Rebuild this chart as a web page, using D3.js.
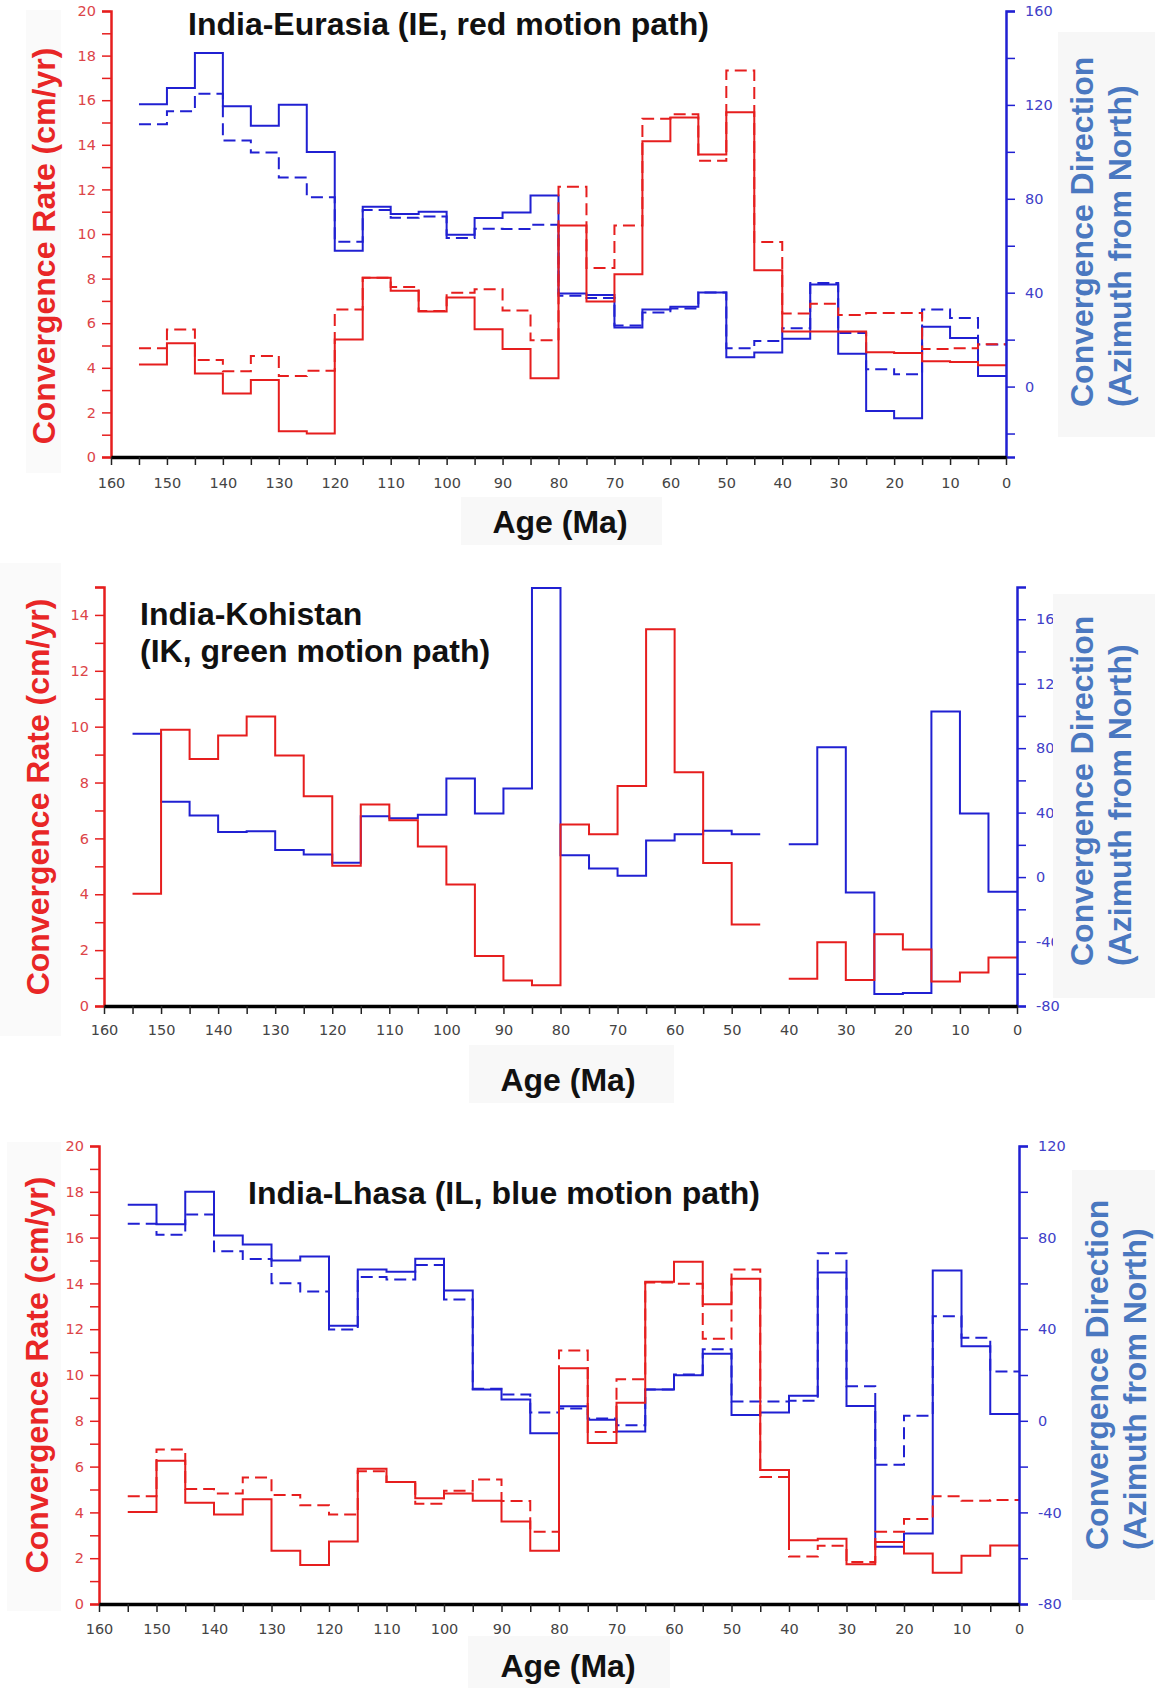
<!DOCTYPE html>
<html>
<head>
<meta charset="utf-8">
<script src="https://cdn.jsdelivr.net/npm/d3@7"></script>
<style>
  body { margin: 0; background: #fff; }
  text { font-family: "Liberation Sans", Arial, sans-serif; }
  .tick-label { font-family: "DejaVu Sans", sans-serif; font-size: 14.5px; }
  .big { font-weight: bold; font-size: 32px; }
</style>
</head>
<body>
<svg id="chart" width="1155" height="1688"></svg>
<script>
// bin start ages (Ma), each bin runs from age to age-5
var ages = [155,150,145,140,135,130,125,120,115,110,105,100,95,90,85,80,75,70,65,60,55,50,45,40,35,30,25,20,15,10,5];
var ageTicks = [160,150,140,130,120,110,100,90,80,70,60,50,40,30,20,10,0];

// India-Eurasia
var ieRateSolid  = [4.15,5.1,3.75,2.85,3.45,1.15,1.05,5.27,8.04,7.46,6.52,7.15,5.73,4.84,3.53,10.38,6.97,8.19,14.16,15.22,13.57,15.46,8.38,5.63,5.63,5.63,4.7,4.66,4.29,4.26,4.11];
var ieRateDashed = [4.88,5.72,4.35,3.84,4.53,3.63,3.87,6.61,8.04,7.62,6.55,7.36,7.52,6.57,5.23,12.12,8.47,10.38,15.17,15.37,13.28,17.33,9.64,6.43,6.87,6.37,6.46,6.46,4.84,4.88,5.06];
var ieAzSolid    = [120.3,127.2,142.1,119.4,111.1,120.1,99.9,57.9,76.6,73.5,74.5,64.7,71.8,74.2,81.4,39.6,39.0,25.2,32.8,34.0,40.1,12.5,14.5,20.4,43.5,14.0,-10.4,-13.5,25.5,20.7,4.5];
var ieAzDashed   = [111.8,117.3,124.8,104.8,99.7,89.1,80.7,61.7,75.2,71.9,72.5,63.3,67.2,67.1,68.9,38.7,37.7,26.0,31.6,33.3,40.1,16.3,19.4,24.8,44.1,22.8,7.4,5.2,32.8,29.2,17.9];

// India-Kohistan (no 45-40 Ma bin)
var ikRate = [4.02,9.89,8.84,9.68,10.36,8.97,7.51,5.02,7.21,6.65,5.71,4.35,1.79,0.91,0.74,6.50,6.15,7.88,13.49,8.37,5.12,2.92,null,0.98,2.28,0.93,2.57,2.02,0.88,1.20,1.74];
var ikAz   = [89.0,46.7,38.2,28.0,28.5,16.8,14.0,8.9,37.8,36.5,38.6,61.1,39.5,55.0,179.4,13.6,5.3,0.8,22.7,26.5,28.7,26.5,null,20.4,80.5,-9.6,-72.6,-72.0,102.8,39.5,-9.1];

// India-Lhasa
var ilRateSolid  = [4.02,6.26,4.42,3.91,4.57,2.33,1.70,2.73,5.91,5.33,4.62,4.83,4.51,3.60,2.33,10.30,7.03,8.79,14.07,14.95,13.09,14.20,5.85,2.78,2.85,1.74,2.71,2.21,1.36,2.11,2.56];
var ilRateDashed = [4.70,6.75,5.02,4.83,5.52,4.76,4.31,3.91,5.80,5.33,4.38,4.94,5.44,4.50,3.15,11.07,7.51,9.81,14.04,13.98,11.58,14.61,5.55,2.07,2.54,1.83,3.15,3.71,4.70,4.51,4.54];
var ilAzSolid    = [94.3,85.8,100.0,80.9,77.0,70.0,71.8,41.5,66.1,65.1,70.8,56.9,13.7,9.3,-5.4,6.4,0.5,-4.7,13.7,19.9,29.3,2.5,3.6,10.9,64.8,6.5,-55.0,-49.2,65.6,32.6,3.0];
var ilAzDashed   = [86.1,81.2,90.1,74.0,70.7,60.1,56.5,39.9,62.8,61.7,68.0,53.0,14.0,11.5,3.6,5.4,1.0,-1.9,13.7,20.2,31.2,8.4,8.4,8.8,73.2,15.1,-19.2,2.2,45.7,36.3,21.5];

var svg = d3.select("#chart");
var red = "#e61e1e", blue = "#2020d2";

var panels = [
  { left: 111, right: 1006, top: 11, bottom: 457, rateMax: 20, azMin: -30, azMax: 160, azTickMax: 160,
    rate: [ieRateSolid, ieRateDashed], az: [ieAzSolid, ieAzDashed],
    title: ["India-Eurasia (IE, red motion path)"], titleX: 188, titleY: 35,
    leftBox: [26, 10, 35, 463], leftLab: [55, 246],
    rightBox: [1058, 32, 97, 405], rightLab: [1093, 1131, 407],
    ageBox: [461, 497, 201, 48], ageLab: [560, 533], tickY: 488 },
  { left: 104, right: 1017, top: 587, bottom: 1006, rateMax: 15, azMin: -80, azMax: 180, azTickMax: 160,
    rate: [ikRate], az: [ikAz],
    title: ["India-Kohistan", "(IK, green motion path)"], titleX: 140, titleY: 625,
    leftBox: [0, 563, 61, 473], leftLab: [49, 797],
    rightBox: [1053, 594, 102, 404], rightLab: [1093, 1131, 966],
    ageBox: [469, 1045, 205, 58], ageLab: [568, 1091], tickY: 1035 },
  { left: 99, right: 1019, top: 1146, bottom: 1604, rateMax: 20, azMin: -80, azMax: 120, azTickMax: 120,
    rate: [ilRateSolid, ilRateDashed], az: [ilAzSolid, ilAzDashed],
    title: ["India-Lhasa (IL, blue motion path)"], titleX: 248, titleY: 1204,
    leftBox: [7, 1142, 54, 469], leftLab: [48, 1375],
    rightBox: [1072, 1170, 83, 430], rightLab: [1108, 1146, 1550],
    ageBox: [468, 1636, 202, 52], ageLab: [568, 1677], tickY: 1634 }
];

// turn bin values into step-line corner points (null breaks the line)
function stepPoints(vals) {
  var pts = [];
  vals.forEach(function(v, i) {
    if (v == null) { pts.push(null); return; }
    pts.push([ages[i], v]);
    pts.push([ages[i] - 5, v]);
  });
  return pts;
}

panels.forEach(drawPanel);

function drawPanel(p) {
  var g = svg.append("g");

  var x = d3.scaleLinear().domain([160, 0]).range([p.left, p.right]);
  var yRate = d3.scaleLinear().domain([0, p.rateMax]).range([p.bottom, p.top]);
  var yAz = d3.scaleLinear().domain([p.azMin, p.azMax]).range([p.bottom, p.top]);

  // faint label background
  g.append("rect").attr("x", p.leftBox[0]).attr("y", p.leftBox[1])
    .attr("width", p.leftBox[2]).attr("height", p.leftBox[3]).attr("fill", "#fafafa");

  // series
  var lineAz = d3.line().defined(function(d) { return d != null; })
    .x(function(d) { return x(d[0]); }).y(function(d) { return yAz(d[1]); });
  var lineRate = d3.line().defined(function(d) { return d != null; })
    .x(function(d) { return x(d[0]); }).y(function(d) { return yRate(d[1]); });

  p.az.forEach(function(s, i) {
    g.append("path").attr("d", lineAz(stepPoints(s)))
      .attr("fill", "none").attr("stroke", blue).attr("stroke-width", 2)
      .attr("stroke-dasharray", i == 1 ? "12,6" : null);
  });
  p.rate.forEach(function(s, i) {
    g.append("path").attr("d", lineRate(stepPoints(s)))
      .attr("fill", "none").attr("stroke", red).attr("stroke-width", 2)
      .attr("stroke-dasharray", i == 1 ? "12,6" : null);
  });

  // left axis (rate)
  var leftAx = d3.axisLeft(yRate).tickValues(d3.range(0, p.rateMax + 0.1, 1))
    .tickSize(9).tickFormat(function(d) { return d % 2 == 0 ? d : ""; }).tickPadding(6);
  var la = g.append("g").attr("transform", "translate(" + p.left + ",0)").call(leftAx);
  la.select(".domain").attr("stroke", red).attr("stroke-width", 2.5);
  la.selectAll(".tick line").attr("stroke", red).attr("stroke-width", 1.5);
  la.selectAll(".tick text").attr("class", "tick-label").attr("fill", "#dc4448");

  // right axis (azimuth)
  var azTicks = d3.range(-80, p.azTickMax + 1, 20).filter(function(d) { return d >= p.azMin; });
  var rightAx = d3.axisRight(yAz).tickValues(azTicks).tickSize(9).tickPadding(10)
    .tickFormat(function(d) { return d % 40 == 0 ? d : ""; });
  var ra = g.append("g").attr("transform", "translate(" + p.right + ",0)").call(rightAx);
  ra.select(".domain").attr("stroke", blue).attr("stroke-width", 2.5);
  ra.selectAll(".tick line").attr("stroke", blue).attr("stroke-width", 1.5);
  ra.selectAll(".tick text").attr("class", "tick-label").attr("fill", "#4040c8");

  // bottom axis (age)
  var bottomAx = d3.axisBottom(x).tickValues(d3.range(0, 161, 5)).tickSize(8)
    .tickFormat(function(d) { return d % 10 == 0 ? d : ""; }).tickSizeOuter(0);
  var ba = g.append("g").attr("transform", "translate(0," + p.bottom + ")").call(bottomAx);
  ba.select(".domain").attr("stroke", "#000").attr("stroke-width", 3.5);
  ba.selectAll(".tick line").attr("stroke", "#222").attr("stroke-width", 1.5);
  ba.selectAll(".tick text").attr("class", "tick-label").attr("fill", "#444")
    .attr("y", p.tickY - p.bottom - 10).attr("dy", "0.71em");

  // boxes behind / over labels
  g.append("rect").attr("x", p.rightBox[0]).attr("y", p.rightBox[1])
    .attr("width", p.rightBox[2]).attr("height", p.rightBox[3]).attr("fill", "#f7f7f7");
  g.append("rect").attr("x", p.ageBox[0]).attr("y", p.ageBox[1])
    .attr("width", p.ageBox[2]).attr("height", p.ageBox[3]).attr("fill", "#f8f8f8");

  // texts
  g.append("text").attr("class", "big").attr("x", p.ageLab[0]).attr("y", p.ageLab[1])
    .attr("text-anchor", "middle").attr("fill", "#111").text("Age (Ma)");

  var t = g.append("text").attr("class", "big").attr("x", p.titleX).attr("y", p.titleY).attr("fill", "#111");
  p.title.forEach(function(line, i) {
    t.append("tspan").attr("x", p.titleX).attr("dy", i == 0 ? 0 : 37).text(line);
  });

  g.append("text").attr("class", "big")
    .attr("transform", "translate(" + p.leftLab[0] + "," + p.leftLab[1] + ") rotate(-90)")
    .attr("text-anchor", "middle").attr("fill", "#e82626").text("Convergence Rate (cm/yr)");

  g.append("text").attr("class", "big")
    .attr("transform", "translate(" + p.rightLab[0] + "," + p.rightLab[2] + ") rotate(-90)")
    .attr("fill", "#4a78c0").text("Convergence Direction");
  g.append("text").attr("class", "big")
    .attr("transform", "translate(" + p.rightLab[1] + "," + p.rightLab[2] + ") rotate(-90)")
    .attr("fill", "#4a78c0").text("(Azimuth from North)");
}
</script>
</body>
</html>
